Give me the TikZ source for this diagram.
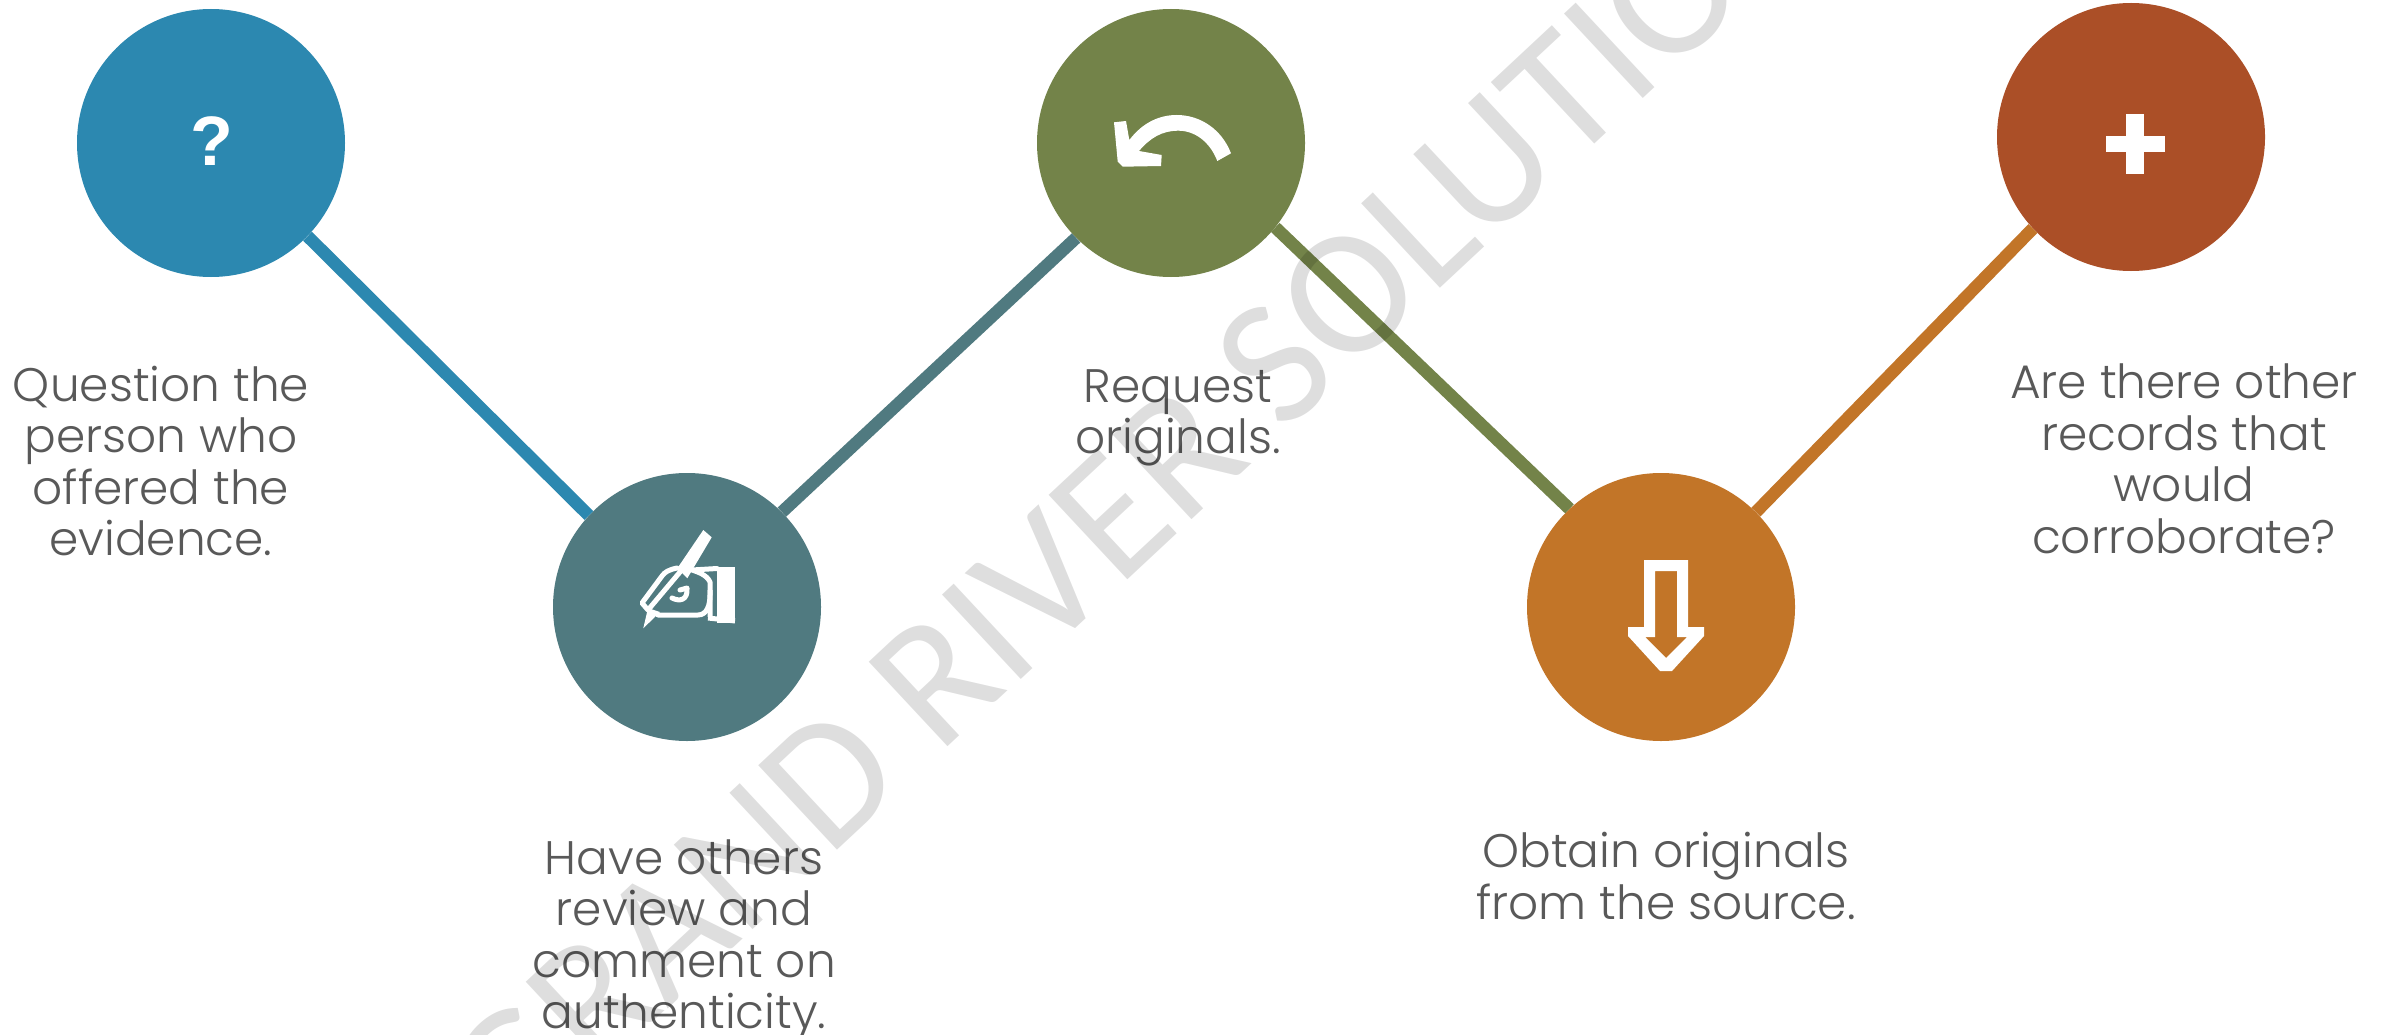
\documentclass[tikz,border=0pt]{standalone}
\usepackage{fontspec}
\setmainfont{Poppins}[UprightFont=* Light]
\newfontfamily\wmfont{Carlito}
\newfontfamily\qfont{Liberation Sans}[BoldFont=* Bold]
\definecolor{cOne}{HTML}{2C88B0}
\definecolor{cTwo}{HTML}{507A80}
\definecolor{cThree}{HTML}{738349}
\definecolor{cFour}{HTML}{C27528}
\definecolor{cFive}{HTML}{AB4F27}
\definecolor{txt}{HTML}{595959}
\tikzset{
  x=1pt,y=-1pt,
  disc/.style={circle,minimum size=268pt,inner sep=0pt,text=white},
  link/.style={line width=12.5pt},
  lbl/.style={text=txt,align=center,inner sep=0pt,font=\fontsize{47}{51.5}\selectfont},
  icon/.style={fill=white,draw=none},
  iconline/.style={draw=white,line width=5pt,line join=round,line cap=round},
}
\begin{document}
\begin{tikzpicture}
\clip (0,0) rectangle (2392,1035);
\fill[white] (0,0) rectangle (2392,1035);
\node[disc,fill=cOne] (c1) at (211,143) {};
\node[disc,fill=cTwo] (c2) at (687,607) {};
\node[disc,fill=cThree] (c3) at (1171,143) {};
\node[disc,fill=cFour] (c4) at (1661,607) {};
\node[disc,fill=cFive] (c5) at (2131,137) {};
\draw[link,cOne] (c1.-44.4) -- (c2.137);
\draw[link,cTwo] (c2.45.6) -- (c3.225);
\draw[link,cThree] (c3.-39) -- (c4.133);
\draw[link,cFour] (c4.45) -- (c5.223.5);
% question mark
\node[text=white,inner sep=0pt,font=\qfont\bfseries\fontsize{70}{70}\selectfont] (q) at (212,141) {?};
% pen and hand
\fill[icon] (703.3,530) -- (711.7,537.3) -- (687.3,578.3) -- (677.3,568.3) -- cycle;
\draw[iconline] (677,568) .. controls (668,570) and (665,572) .. (662,576) -- (642,603) -- (648,610) -- (680,572);
\fill[icon] (648,608) -- (643.3,628.3) -- (660,612) -- cycle;
\draw[iconline] (658,615) -- (698,615) .. controls (707,615) and (710,605) .. (710,595) -- (710,582) .. controls (707,575) and (698,572) .. (692,570) -- (717,568.5);
\draw[iconline] (680,590) -- (687,588) .. controls (688,600) and (680,602) .. (672,598);
\fill[icon] (717,567) rectangle (735,623);
\draw[draw=white,line width=5pt] (710,590) -- (710,617) (708,618) -- (735,621);
% undo arrow
\fill[icon] (1114,122.3) -- (1126,121) -- (1129.3,140) .. controls (1143,122) and (1160,115) .. (1176.7,115) .. controls (1201,115) and (1222,130) .. (1231,153.3) -- (1217.3,161) .. controls (1210,142) and (1195,130.7) .. (1178.3,130.7) .. controls (1162,130.7) and (1150,138) .. (1139,151) -- (1161.7,155) -- (1161,166) -- (1122.7,166.7) -- (1117.7,161.7) -- cycle;
% down arrow
\fill[icon,even odd rule] (1644,560) -- (1688,560) -- (1688,627) -- (1704,627) -- (1704,636) -- (1672,671) -- (1660,671) -- (1628,636) -- (1628,627) -- (1644,627) -- cycle
 (1655,571) -- (1677,571) -- (1677,637) -- (1687,637) -- (1666,658) -- (1645,637) -- (1655,637) -- cycle;
% plus
\fill[icon] (2126,114) rectangle (2144,174);
\fill[icon] (2106,136) rectangle (2165,152);
% labels
\node[lbl] (t1) at (161,461) {Question the\\person who\\offered the\\evidence.};
\node[lbl] (t2) at (684,940) {Have others\\review and\\comment on\\authenticity.};
\node[lbl] (t3) at (1178,418) {Request\\originals.};
\node[lbl] (t4) at (1666,876) {Obtain originals\\from the source.};
\node[lbl] (t5) at (2184,459) {Are there other\\records that\\would\\corroborate?};
% watermark
\node[black,opacity=0.13,rotate=43,inner sep=0pt,font=\wmfont\fontsize{180}{180}\selectfont] (wm) at (1166,465) {GRAND RIVER SOLUTIONS};
\end{tikzpicture}
\end{document}
